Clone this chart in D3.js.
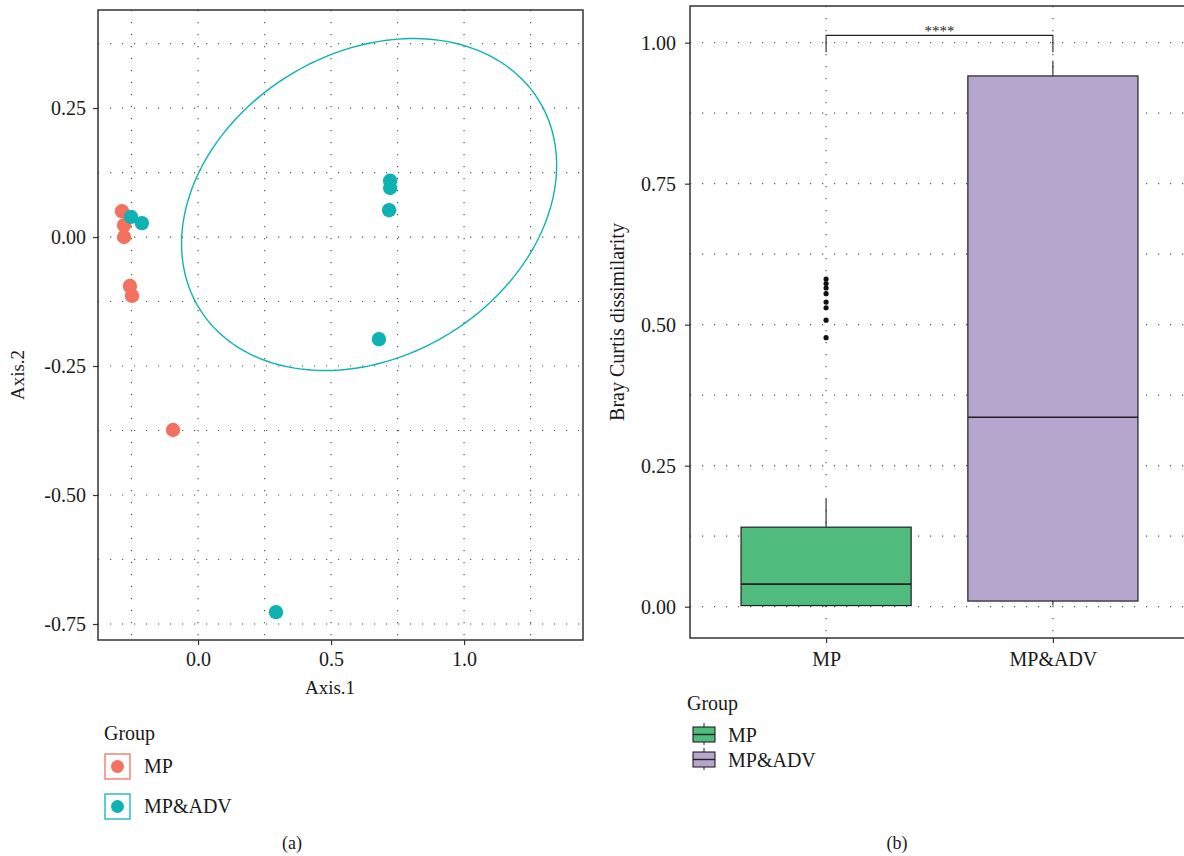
<!DOCTYPE html>
<html>
<head>
<meta charset="utf-8">
<script src="https://cdn.jsdelivr.net/npm/d3@7"></script>
<style>
  body { margin: 0; background: #fff; }
  svg text { font-family: "Liberation Serif", "DejaVu Serif", serif; fill: #1a1a1a; }
  .grid line { stroke: #555; stroke-width: 1.2; stroke-dasharray: 1.2,10.8; }
  .axis path { display: none; }
  .axis line { stroke: #333; stroke-width: 1.2; }
  .axis text { font-size: 20px; font-family: "Liberation Serif", "DejaVu Serif", serif; }
</style>
</head>
<body>
<script>
// ---- data ----
var groups = ["MP", "MP&ADV"];
var groupColors = ["#F2725F", "#0EB2B3"];

// PCoA points
var mpAxis1 = [-0.286, -0.278, -0.278, -0.256, -0.248, -0.094];
var mpAxis2 = [0.050, 0.023, 0.000, -0.095, -0.114, -0.374];
var advAxis1 = [-0.252, -0.211, 0.722, 0.722, 0.718, 0.680, 0.293];
var advAxis2 = [0.039, 0.027, 0.109, 0.095, 0.052, -0.198, -0.727];

// confidence ellipse for MP&ADV (center and shape matrix, data units)
var ellipseCenter = [0.643, 0.063];
var ellipseShape = [[0.4969, 0.0536], [0.0536, 0.1035]];

var pcoaXTicks = [0, 0.5, 1.0];
var pcoaYTicks = [-0.75, -0.5, -0.25, 0, 0.25];
var pcoaXGrid = [-0.25, 0, 0.25, 0.5, 0.75, 1.0, 1.25];
var pcoaYGrid = [-0.75, -0.625, -0.5, -0.375, -0.25, -0.125, 0, 0.125, 0.25, 0.375];

// Bray Curtis boxplot
var boxColors = ["#4FBB7C", "#B6A5CC"];
var whiskerLow = [0.000, 0.002];
var q1 = [0.002, 0.010];
var medians = [0.040, 0.336];
var q3 = [0.141, 0.941];
var whiskerHigh = [0.191, 0.968];
var mpOutliers = [0.581, 0.573, 0.565, 0.555, 0.540, 0.530, 0.508, 0.477];
var bcTicks = [0, 0.25, 0.5, 0.75, 1.0];
var bcGrid = [0, 0.125, 0.25, 0.375, 0.5, 0.625, 0.75, 0.875, 1.0];
var signifY = 1.013, signifTipY = 0.983, signifLabel = "****";

var width = 1184, height = 856;

var svg = d3.select("body")
    .append("svg")
    .attr("width", width)
    .attr("height", height);

drawPcoa();
drawBox();

// captions
svg.append("text").attr("x", 292).attr("y", 849).attr("text-anchor", "middle")
    .style("font-size", "18px").text("(a)");
svg.append("text").attr("x", 897).attr("y", 849).attr("text-anchor", "middle")
    .style("font-size", "18px").text("(b)");

function drawPcoa(){
    var left = 98, right = 583, top = 10, bottom = 640;

    var x = d3.scaleLinear().domain([-0.376, 1.447]).range([left, right]);
    var y = d3.scaleLinear().domain([-0.781, 0.440]).range([bottom, top]);

    var g = svg.append("g");

    //dotted grid
    var grid = g.append("g").attr("class", "grid");
    grid.selectAll(".gx").data(pcoaXGrid).enter().append("line")
        .attr("x1", function(d){ return x(d); }).attr("x2", function(d){ return x(d); })
        .attr("y1", top).attr("y2", bottom);
    grid.selectAll(".gy").data(pcoaYGrid).enter().append("line")
        .attr("y1", function(d){ return y(d); }).attr("y2", function(d){ return y(d); })
        .attr("x1", left).attr("x2", right);

    //ellipse from shape matrix (cholesky)
    var a = Math.sqrt(ellipseShape[0][0]);
    var b = ellipseShape[0][1] / a;
    var c = Math.sqrt(ellipseShape[1][1] - b * b);
    var pts = d3.range(0, 201).map(function(i){
        var t = i / 200 * 2 * Math.PI;
        return [x(ellipseCenter[0] + a * Math.cos(t)),
                y(ellipseCenter[1] + b * Math.cos(t) + c * Math.sin(t))];
    });
    g.append("path")
        .attr("d", d3.line()(pts))
        .attr("fill", "none")
        .attr("stroke", groupColors[1])
        .attr("stroke-width", 1.4);

    //points
    var mp = mpAxis1.map(function(d, i){ return {x: d, y: mpAxis2[i], c: groupColors[0]}; });
    var adv = advAxis1.map(function(d, i){ return {x: d, y: advAxis2[i], c: groupColors[1]}; });
    g.selectAll(".pt").data(mp.concat(adv)).enter().append("circle")
        .attr("cx", function(d){ return x(d.x); })
        .attr("cy", function(d){ return y(d.y); })
        .attr("r", 7.2)
        .attr("fill", function(d){ return d.c; });

    //axes
    g.append("g").attr("class", "axis")
        .attr("transform", "translate(" + left + ",0)")
        .call(d3.axisLeft(y).tickValues(pcoaYTicks).tickSize(5).tickPadding(7)
            .tickFormat(function(d){ return d.toFixed(2); }));
    g.append("g").attr("class", "axis")
        .attr("transform", "translate(0," + bottom + ")")
        .call(d3.axisBottom(x).tickValues(pcoaXTicks).tickSize(5).tickPadding(7)
            .tickFormat(function(d){ return d.toFixed(1); }));

    //frame
    g.append("rect")
        .attr("x", left).attr("y", top)
        .attr("width", right - left).attr("height", bottom - top)
        .attr("fill", "none").attr("stroke", "#333").attr("stroke-width", 1.5);

    //titles
    g.append("text").attr("x", 330).attr("y", 694).attr("text-anchor", "middle")
        .style("font-size", "19px").text("Axis.1");
    g.append("text").attr("transform", "translate(24,375) rotate(-90)")
        .attr("text-anchor", "middle").style("font-size", "19px").text("Axis.2");

    //legend
    var lg = g.append("g");
    lg.append("text").attr("x", 104).attr("y", 740).style("font-size", "20px").text("Group");
    var items = lg.selectAll(".item").data(groups).enter().append("g")
        .attr("transform", function(d, i){ return "translate(105," + (754 + i * 40) + ")"; });
    items.append("rect").attr("width", 25).attr("height", 25)
        .attr("fill", "#fff").attr("stroke", function(d, i){ return groupColors[i]; })
        .attr("stroke-width", 1.3);
    items.append("circle").attr("cx", 12.5).attr("cy", 12.5).attr("r", 6.5)
        .attr("fill", function(d, i){ return groupColors[i]; });
    items.append("text").attr("x", 39).attr("y", 19).style("font-size", "20px")
        .text(function(d){ return d; });
}

function drawBox(){
    var left = 690, right = 1189, top = 6, bottom = 638;

    var x = d3.scalePoint().domain(groups).range([left, right]).padding(0.6);
    var y = d3.scaleLinear().domain([-0.0555, 1.065]).range([bottom, top]);
    var boxW = x.step() * 0.75;

    var g = svg.append("g");

    var grid = g.append("g").attr("class", "grid");
    grid.selectAll(".gx").data(groups).enter().append("line")
        .attr("x1", function(d){ return x(d); }).attr("x2", function(d){ return x(d); })
        .attr("y1", top).attr("y2", bottom);
    grid.selectAll(".gy").data(bcGrid).enter().append("line")
        .attr("y1", function(d){ return y(d); }).attr("y2", function(d){ return y(d); })
        .attr("x1", left).attr("x2", right);

    var stats = groups.map(function(d, i){
        return {g: d, lo: whiskerLow[i], q1: q1[i], med: medians[i], q3: q3[i], hi: whiskerHigh[i], c: boxColors[i]};
    });

    var boxes = g.selectAll(".box").data(stats).enter().append("g");
    boxes.append("line")
        .attr("x1", function(d){ return x(d.g); }).attr("x2", function(d){ return x(d.g); })
        .attr("y1", function(d){ return y(d.q3); }).attr("y2", function(d){ return y(d.hi); })
        .attr("stroke", "#222").attr("stroke-width", 1.1);
    boxes.append("line")
        .attr("x1", function(d){ return x(d.g); }).attr("x2", function(d){ return x(d.g); })
        .attr("y1", function(d){ return y(d.q1); }).attr("y2", function(d){ return y(d.lo); })
        .attr("stroke", "#222").attr("stroke-width", 1.1);
    boxes.append("rect")
        .attr("x", function(d){ return x(d.g) - boxW / 2; })
        .attr("width", boxW)
        .attr("y", function(d){ return y(d.q3); })
        .attr("height", function(d){ return y(d.q1) - y(d.q3); })
        .attr("fill", function(d){ return d.c; })
        .attr("stroke", "#222").attr("stroke-width", 1.2);
    boxes.append("line")
        .attr("x1", function(d){ return x(d.g) - boxW / 2; })
        .attr("x2", function(d){ return x(d.g) + boxW / 2; })
        .attr("y1", function(d){ return y(d.med); }).attr("y2", function(d){ return y(d.med); })
        .attr("stroke", "#222").attr("stroke-width", 1.6);

    //outliers
    g.selectAll(".out").data(mpOutliers).enter().append("circle")
        .attr("cx", x(groups[0])).attr("cy", function(d){ return y(d); })
        .attr("r", 2.6).attr("fill", "#111");

    //significance bracket
    var x1 = x(groups[0]), x2 = x(groups[1]);
    g.append("path")
        .attr("d", "M" + x1 + "," + y(signifTipY) + "V" + y(signifY) + "H" + x2 + "V" + y(signifTipY))
        .attr("fill", "none").attr("stroke", "#222").attr("stroke-width", 1.1);
    g.append("text").attr("x", (x1 + x2) / 2).attr("y", y(signifY) + 1)
        .attr("text-anchor", "middle").style("font-size", "15px").style("fill", "#222")
        .text(signifLabel);

    //axes
    g.append("g").attr("class", "axis")
        .attr("transform", "translate(" + left + ",0)")
        .call(d3.axisLeft(y).tickValues(bcTicks).tickSize(5).tickPadding(9)
            .tickFormat(function(d){ return d.toFixed(2); }));
    g.append("g").attr("class", "axis")
        .attr("transform", "translate(0," + bottom + ")")
        .call(d3.axisBottom(x).tickSize(5).tickPadding(9));

    g.append("rect")
        .attr("x", left).attr("y", top)
        .attr("width", right - left).attr("height", bottom - top)
        .attr("fill", "none").attr("stroke", "#333").attr("stroke-width", 1.5);

    g.append("text").attr("transform", "translate(624,322) rotate(-90)")
        .attr("text-anchor", "middle").style("font-size", "20px").text("Bray Curtis dissimilarity");

    //legend
    var lg = g.append("g");
    lg.append("text").attr("x", 687).attr("y", 710).style("font-size", "20px").text("Group");
    var items = lg.selectAll(".item").data(groups).enter().append("g")
        .attr("transform", function(d, i){ return "translate(693," + (723 + i * 25) + ")"; });
    items.append("line").attr("x1", 11).attr("x2", 11).attr("y1", 0).attr("y2", 22)
        .attr("stroke", "#222").attr("stroke-width", 1);
    items.append("rect").attr("x", 0).attr("y", 4).attr("width", 22).attr("height", 15)
        .attr("fill", function(d, i){ return boxColors[i]; })
        .attr("stroke", "#222").attr("stroke-width", 1.1);
    items.append("line").attr("x1", 0).attr("x2", 22).attr("y1", 11.5).attr("y2", 11.5)
        .attr("stroke", "#222").attr("stroke-width", 1.4);
    items.append("text").attr("x", 35).attr("y", 19).style("font-size", "20px")
        .text(function(d){ return d; });
}
</script>
</body>
</html>
